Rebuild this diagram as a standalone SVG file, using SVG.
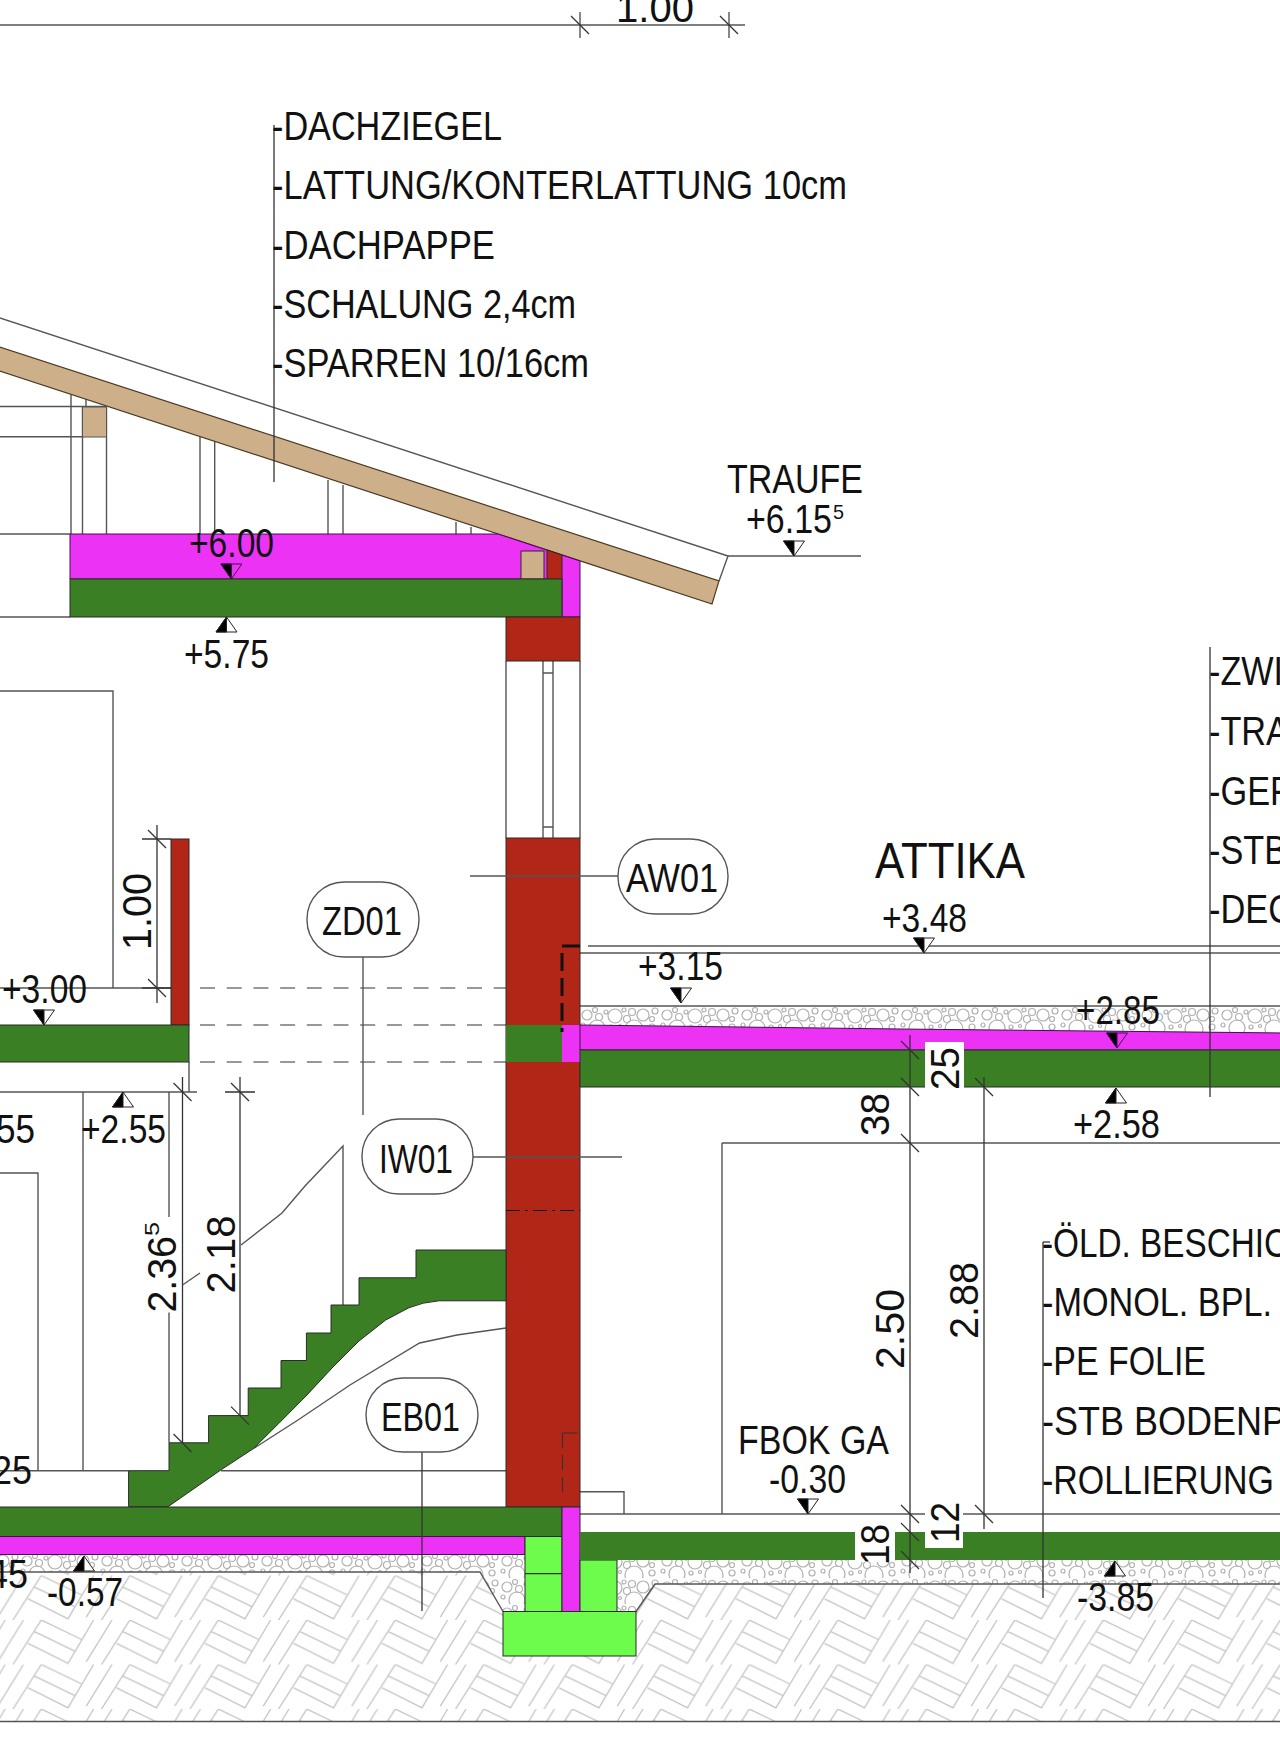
<svg xmlns="http://www.w3.org/2000/svg" width="1280" height="1750" viewBox="0 0 1280 1750">
<style>
text{font-family:"Liberation Sans",Arial,sans-serif;font-size:40.5px;fill:#111}
.l{fill:none;stroke:#555;stroke-width:1.4}
.k{fill:none;stroke:#333;stroke-width:1.3}
.red{fill:#b22618}.grn{fill:#3a7f23}.mag{fill:#ec33f5}.tan{fill:#cdb089}.lgr{fill:#6dfb4c}
.o{fill:#fff;stroke:#555;stroke-width:1.4}
</style>
<defs>
<g id="hb" fill="none" stroke="#c4c4c4" stroke-width="1.3">
<path d="M-28.3 44.5L0 0L40 19.3M-6.7 11.7L33.3 31M-13.3 23.3L26.7 43.3L52.3 0M70.7 0L45 41.7"/>
</g>
<pattern id="ground" patternUnits="userSpaceOnUse" x="218.3" y="1620" width="88.5" height="44.5">
<use href="#hb"/><use href="#hb" x="88.5"/>
</pattern>
<pattern id="gravel" patternUnits="userSpaceOnUse" x="580" y="1006" width="80" height="26">
<g fill="none" stroke="#b0b0b0" stroke-width="1.2">
<circle cx="7" cy="9" r="5"/><circle cx="15" cy="4" r="2.5"/><circle cx="19" cy="11" r="3.5"/><circle cx="26" cy="6" r="2"/><circle cx="35" cy="10" r="7"/><circle cx="44" cy="4" r="2"/><circle cx="47" cy="13" r="3.5"/><circle cx="52" cy="6" r="3.5"/><circle cx="63" cy="9" r="6"/><circle cx="72" cy="13" r="2.5"/><circle cx="75" cy="5" r="3"/><circle cx="17" cy="22" r="8"/><circle cx="54" cy="23" r="9"/><circle cx="31" cy="21" r="2"/><circle cx="3" cy="19" r="2"/><circle cx="72" cy="21" r="3"/><circle cx="40" cy="20" r="1.5"/>
</g>
</pattern>
<g id="lvd" stroke="#222" stroke-width="1"><path d="M0 0L10.5 -15H-10.5Z" fill="#fff"/><path d="M0 0L-10.5 -15H0Z" fill="#000"/></g>
<g id="lvm" stroke="#401050" stroke-width="1"><path d="M0 0L10.5 -15H-10.5Z" fill="none"/><path d="M0 0L-10.5 -15H0Z" fill="#000"/></g>
<g id="lvu" stroke="#222" stroke-width="1"><path d="M0 0L10.5 15H-10.5Z" fill="#fff"/><path d="M0 0L-10.5 15H0Z" fill="#000"/></g>
<path id="t" d="M-9 -9L9 9" fill="none" stroke="#333" stroke-width="1.2"/>
</defs>
<rect width="1280" height="1750" fill="#fff"/>

<g id="ground-fill">
<path d="M0 1572H480L503 1611.5V1656H636V1611.5L655 1584H1280V1721.5H0Z" fill="url(#ground)"/>
<path class="l" d="M0 1721.5H1280"/>
<path d="M0 1554.5H525V1611.5H503L480 1572H0Z" fill="url(#gravel)"/>
<path d="M617 1560H1280V1584H655L636 1611.5H617Z" fill="url(#gravel)"/>
<path d="M580 1006H1280V1033L900 1029L580 1025Z" fill="url(#gravel)"/>
<path class="l" d="M0 1572H480L503 1611.5M636 1611.5L655 1584H1280M580 1006H1280"/>
</g>

<g id="light-lines">
<path class="l" d="M0 406.5H106.5M0 436.7H82M0 534H70M0 617H70M71 395V534M82.5 407V534M86 399V407M106.5 407V534M200 437V534M214.7 441V534M328 480V534M343 485V534M456 522V534M471 527V534"/>
<path class="l" d="M0 691H113V988M0 1092H197M83 1092V1470.7M0 1173H38V1470.7M0 1470.7H128.6M0 988H171M189 1062V1092"/>
<path class="l" d="M169 1092V1217M169 1312.6V1442.8"/>
<path class="k" d="M240 1077V1431M182.5 1077V1456M157 825V1003"/>
<path class="k" d="M142 839H171M142 988H171M225 1092H255"/>
<path class="l" d="M221 1470.7H518"/>
<path class="l" d="M241 1245L282 1213L305 1186L343 1146V1305"/>
<path class="l" d="M182.5 1285L200 1273"/>
<path class="l" d="M253.6 1448.5L298 1420L350 1385L419.6 1343L457 1335L506 1328"/>
<path class="l" d="M722 1143H1280M722 1143V1514M580 1491.7H624V1514M580 1514H925M963 1514H1280"/>
<path class="l" d="M588 946H1280M580 953H1280"/>
<path class="l" d="M728 556H861"/>
<path class="l" d="M543 661V838M553 661V838M543 673H553M543 827H553M506 661V838M580 661V838"/>
<path class="l" d="M0 25H745M580 12V38M729 12V38"/>
<path stroke="#333" stroke-width="1.2" stroke-dasharray="15 11.7" fill="none" d="M200 988H506M200 1025H506M200 1062H506"/>
</g>

<g id="roof">
<path class="l" d="M-5 316.4L728 556L719 581"/>
<path class="tan" stroke="#4a3a22" stroke-width="1.2" d="M-5 345.4L719 581L712 604L-5 369.4Z"/>
<rect class="tan" x="82.5" y="407" width="24" height="30" stroke="#555"/>
</g>

<g id="structure" stroke="#2a2a2a" stroke-width="1">
<path class="mag" d="M70 534H498L580 561V617H562V579H70Z" stroke="#401050"/>
<rect class="tan" x="521" y="551" width="23" height="28"/>
<path class="red" d="M547 550L562 555V579H547Z"/>
<rect class="grn" x="70" y="579" width="492" height="38"/>
<rect class="red" x="506" y="617" width="74" height="44"/>
<rect class="red" x="506" y="838" width="74" height="669"/>
<rect class="grn" x="506" y="1025" width="56" height="37" stroke="none"/>
<rect class="mag" x="562" y="1025" width="18" height="37" stroke="none"/>
<rect class="red" x="171" y="839" width="18" height="186"/>
<rect class="grn" x="-5" y="1025" width="194" height="37"/>
<path class="mag" d="M580 1025L900 1029L1285 1033V1050H580Z" stroke="#401050"/>
<rect class="grn" x="580" y="1050" width="705" height="37"/>
<path class="grn" d="M128.6 1506.7V1470.7H169V1442.8H208.6V1415.6H248.2V1388H281V1360.5H306.4V1333H331V1305H359V1277.8H416V1250H506V1300.8H439Q423 1302 409 1307.7L385.7 1320L359 1341L332 1368L307 1395L278.6 1423.6L253.6 1448.5L221.4 1469.6L168 1506.7Z"/>
<rect class="grn" x="-5" y="1507" width="567" height="29.5"/>
<rect class="mag" x="-5" y="1536.5" width="530" height="18" stroke="#401050"/>
<rect class="lgr" x="525" y="1536.5" width="37" height="75"/>
<path d="M525 1573.6H562" stroke="#333" stroke-width="1.3"/>
<rect class="mag" x="562" y="1507" width="18" height="104.5"/>
<rect class="lgr" x="580" y="1560" width="37" height="51.5"/>
<rect class="lgr" x="503" y="1611.5" width="133" height="44.5"/>
<rect class="grn" x="580" y="1532" width="705" height="28" stroke="none"/>
<rect x="925" y="1042" width="39" height="49" fill="#fff" stroke="none"/>
<rect x="925" y="1498" width="38" height="50" fill="#fff" stroke="none"/>
<rect x="855" y="1525" width="40" height="37" fill="#fff" stroke="none"/>
</g>

<g id="hidden-lines" fill="none" stroke="#111">
<path stroke-width="3" stroke-dasharray="18 7" d="M562 953V1032"/>
<path stroke-width="3" d="M562 946H580"/>
<path stroke-width="1.2" stroke-dasharray="14 5 3 5" d="M506 1210.5H580"/>
<path stroke-width="1.1" stroke="#333" stroke-dasharray="15 7" d="M562.5 1433V1496M562.5 1433H580"/>
</g>

<g id="dimensions">
<path class="k" d="M910 1035V1573M984 1077V1529M274 125V482M1210 647V1097M1043 1242V1598"/>
<path class="k" d="M1043 1242H1050"/>
<use href="#t" x="580" y="25"/><use href="#t" x="729" y="25"/>
<use href="#t" x="157" y="839"/><use href="#t" x="157" y="988"/>
<use href="#t" x="182.5" y="1092"/><use href="#t" x="240" y="1092"/>
<use href="#t" x="182.5" y="1443"/><use href="#t" x="240" y="1415.6"/>
<use href="#t" x="910" y="1050"/><use href="#t" x="910" y="1087"/><use href="#t" x="910" y="1143"/>
<use href="#t" x="910" y="1514"/><use href="#t" x="910" y="1532"/><use href="#t" x="910" y="1560"/>
<use href="#t" x="984" y="1087"/><use href="#t" x="984" y="1514"/>
</g>

<g id="levels">
<use href="#lvd" x="794" y="556"/>
<use href="#lvm" x="231.4" y="579"/>
<use href="#lvu" x="226.5" y="617"/>
<use href="#lvd" x="44" y="1025"/>
<use href="#lvu" x="123" y="1092"/>
<use href="#lvd" x="924" y="953"/>
<use href="#lvd" x="681" y="1003"/>
<use href="#lvm" x="1117" y="1048"/>
<use href="#lvu" x="1116" y="1088"/>
<use href="#lvd" x="808" y="1514"/>
<use href="#lvu" x="1115" y="1561"/>
<use href="#lvu" x="84" y="1556"/>
</g>

<g id="tag-AW01"><path class="l" d="M618 876H470"/><rect class="o" x="618" y="839" width="110" height="75" rx="37"/><text x="626" y="892" textLength="92" lengthAdjust="spacingAndGlyphs">AW01</text></g>
<g id="tag-ZD01"><path class="l" d="M363 957V1115"/><rect class="o" x="307" y="882" width="112" height="75" rx="37"/><text x="322" y="935" textLength="80" lengthAdjust="spacingAndGlyphs">ZD01</text></g>
<g id="tag-IW01"><path class="l" d="M473 1157H622"/><rect class="o" x="362" y="1119" width="111" height="75" rx="37"/><text x="379" y="1173" textLength="74" lengthAdjust="spacingAndGlyphs">IW01</text></g>
<g id="tag-EB01"><path class="k" d="M422 1452V1611"/><rect class="o" x="366" y="1378" width="112" height="74" rx="37"/><text x="381" y="1430.5" textLength="79" lengthAdjust="spacingAndGlyphs">EB01</text></g>

<g id="notes-roof">
<text x="272" y="140" textLength="230" lengthAdjust="spacingAndGlyphs">-DACHZIEGEL</text>
<text x="272" y="199" textLength="575" lengthAdjust="spacingAndGlyphs">-LATTUNG/KONTERLATTUNG 10cm</text>
<text x="272" y="258.5" textLength="223" lengthAdjust="spacingAndGlyphs">-DACHPAPPE</text>
<text x="272" y="318" textLength="304" lengthAdjust="spacingAndGlyphs">-SCHALUNG 2,4cm</text>
<text x="272" y="377" textLength="317" lengthAdjust="spacingAndGlyphs">-SPARREN 10/16cm</text>
</g>
<g id="notes-attika">
<text x="1209" y="685" textLength="74" lengthAdjust="spacingAndGlyphs">-ZWI</text>
<text x="1209" y="745" textLength="80" lengthAdjust="spacingAndGlyphs">-TRA</text>
<text x="1209" y="804.5" textLength="82" lengthAdjust="spacingAndGlyphs">-GEF</text>
<text x="1209" y="864" textLength="78" lengthAdjust="spacingAndGlyphs">-STB</text>
<text x="1209" y="923" textLength="84" lengthAdjust="spacingAndGlyphs">-DEC</text>
</g>
<g id="notes-floor">
<text x="1042" y="1257" textLength="246" lengthAdjust="spacingAndGlyphs">-ÖLD. BESCHIC</text>
<text x="1042" y="1316" textLength="230" lengthAdjust="spacingAndGlyphs">-MONOL. BPL.</text>
<text x="1042" y="1375" textLength="164" lengthAdjust="spacingAndGlyphs">-PE FOLIE</text>
<text x="1042" y="1435" textLength="244" lengthAdjust="spacingAndGlyphs">-STB BODENP</text>
<text x="1042" y="1494" textLength="232" lengthAdjust="spacingAndGlyphs">-ROLLIERUNG</text>
</g>

<g id="labels">
<text x="616" y="22" textLength="78" lengthAdjust="spacingAndGlyphs">1.00</text>
<text x="727" y="493" textLength="136" lengthAdjust="spacingAndGlyphs">TRAUFE</text>
<text x="746" y="533" textLength="86" lengthAdjust="spacingAndGlyphs">+6.15</text>
<text x="833" y="519" style="font-size:21px" textLength="11" lengthAdjust="spacingAndGlyphs">5</text>
<text x="189" y="557" textLength="85" lengthAdjust="spacingAndGlyphs">+6.00</text>
<text x="184" y="668" textLength="85" lengthAdjust="spacingAndGlyphs">+5.75</text>
<text x="2" y="1002.7" textLength="85" lengthAdjust="spacingAndGlyphs">+3.00</text>
<text x="81" y="1143" textLength="85" lengthAdjust="spacingAndGlyphs">+2.55</text>
<text x="-4" y="1143" textLength="39" lengthAdjust="spacingAndGlyphs">55</text>
<text x="875" y="878" style="font-size:50px" textLength="150" lengthAdjust="spacingAndGlyphs">ATTIKA</text>
<text x="882" y="932" textLength="85" lengthAdjust="spacingAndGlyphs">+3.48</text>
<text x="638" y="980" textLength="85" lengthAdjust="spacingAndGlyphs">+3.15</text>
<text x="1076" y="1024" textLength="84" lengthAdjust="spacingAndGlyphs">+2.85</text>
<text x="1073" y="1138" textLength="87" lengthAdjust="spacingAndGlyphs">+2.58</text>
<text x="738" y="1454" textLength="151" lengthAdjust="spacingAndGlyphs">FBOK GA</text>
<text x="769" y="1493" textLength="77" lengthAdjust="spacingAndGlyphs">-0.30</text>
<text x="1077" y="1610.7" textLength="77" lengthAdjust="spacingAndGlyphs">-3.85</text>
<text x="47" y="1606" textLength="76" lengthAdjust="spacingAndGlyphs">-0.57</text>
<text x="-8" y="1484" textLength="40" lengthAdjust="spacingAndGlyphs">25</text>
<text x="-12" y="1588" textLength="40" lengthAdjust="spacingAndGlyphs">45</text>
<text transform="translate(151 950) rotate(-90)" textLength="77" lengthAdjust="spacingAndGlyphs">1.00</text>
<text transform="translate(176 1312.6) rotate(-90)" textLength="76.6" lengthAdjust="spacingAndGlyphs">2.36</text>
<text transform="translate(159 1236) rotate(-90)" style="font-size:21px" textLength="14" lengthAdjust="spacingAndGlyphs">5</text>
<text transform="translate(235 1293.5) rotate(-90)" textLength="78" lengthAdjust="spacingAndGlyphs">2.18</text>
<text transform="translate(904 1369) rotate(-90)" textLength="80" lengthAdjust="spacingAndGlyphs">2.50</text>
<text transform="translate(978 1339) rotate(-90)" textLength="77" lengthAdjust="spacingAndGlyphs">2.88</text>
<text transform="translate(888.5 1136) rotate(-90)" textLength="43" lengthAdjust="spacingAndGlyphs">38</text>
<text transform="translate(959 1090) rotate(-90)" textLength="43" lengthAdjust="spacingAndGlyphs">25</text>
<text transform="translate(959 1543) rotate(-90)" textLength="41" lengthAdjust="spacingAndGlyphs">12</text>
<text transform="translate(889 1565) rotate(-90)" textLength="41" lengthAdjust="spacingAndGlyphs">18</text>
</g>
</svg>
